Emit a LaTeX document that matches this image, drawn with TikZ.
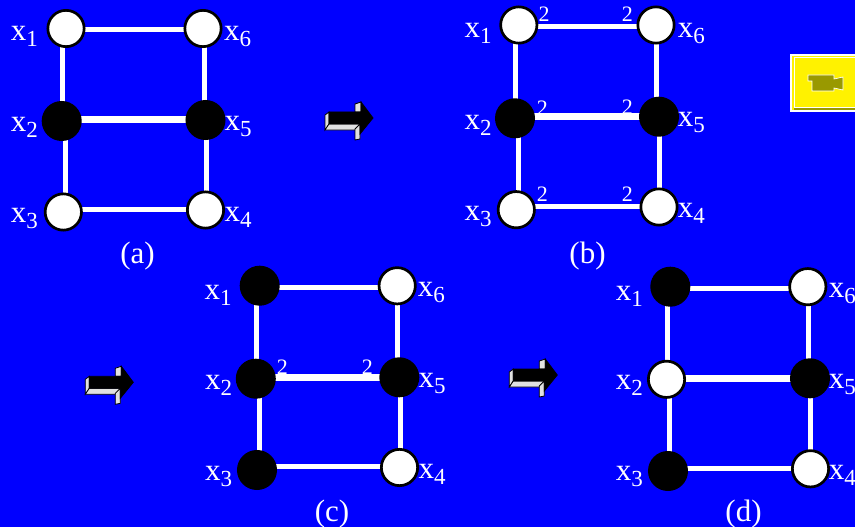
\documentclass[tikz,border=0pt]{standalone}
\usepackage{fontspec}
\setmainfont{Liberation Serif}
\usetikzlibrary{backgrounds}

\newcommand{\xname}[1]{x\raisebox{-6pt}{\fontsize{23}{23}\selectfont #1}}

\definecolor{slideblue}{RGB}{0,0,255}
\definecolor{camolive}{RGB}{153,153,0}
\definecolor{facegray}{RGB}{225,225,225}

\begin{document}
\begin{tikzpicture}[
  x=1pt, y=-1pt,
  font=\fontsize{31}{31}\selectfont,
  white node/.style={circle, draw=black, line width=2.7pt, fill=white,
                     minimum size=36.3pt, inner sep=0pt},
  black node/.style={white node, fill=black, minimum size=37.3pt},
  vname/.style={text=white, inner sep=0pt, anchor=base west},
  caption/.style={text=white, inner sep=0pt, anchor=base},
  weight/.style={text=white, inner sep=0pt, anchor=base west,
                 font=\fontsize{22}{22}\selectfont},
  wire/.style={draw=white, line width=5pt},
  midwire/.style={draw=white, line width=6.5pt},
  face/.style={fill=facegray, draw=black, line width=0.8pt},
  pics/blockarrow/.style={code={
    \path[face] (-48,-3) -- (-44,-6) -- (-44,6) -- (-48,12) -- cycle;
    \path[face] (-44,6) -- (-13,6) -- (-18,12) -- (-48,12) -- cycle;
    \path[face] (-18,11) -- (-13,6) -- (-13,21) -- (-18,22) -- cycle;
    \path[face] (-18,-14) -- (-12,-16) -- (-12,-6) -- (-18,-6) -- cycle;
    \path[fill=black, draw=black, line width=0.8pt] (-44,-6) -- (-12,-6) -- (-12,-16)
      -- (0,0) -- (-13,16) -- (-13,6) -- (-44,6) -- cycle;
  }},
]
\useasboundingbox (0,0) rectangle (855,527);
\begin{scope}[on background layer]
  \fill[slideblue] (0,0) rectangle (855,527);
\end{scope}

% ---- graph (a) ----
\node[white node] (a1) at (66,28.5) {};
\node[white node] (a6) at (203,28.5) {};
\node[black node] (a2) at (61.7,121) {};
\node[black node] (a5) at (205.5,120) {};
\node[white node] (a3) at (63.3,212) {};
\node[white node] (a4) at (205.5,210) {};
\begin{scope}[on background layer]
  \draw[wire] ([yshift=-1.5pt]a1.center) -- ([yshift=-1.5pt]a6.center);
  \draw[wire] ([xshift=-3.3pt]a1.center) -- ([xshift=1pt]a2.center);
  \draw[wire] ([xshift=1pt]a6.center) -- ([xshift=-1.5pt]a5.center);
  \draw[midwire] ([yshift=1.5pt]a2.center) -- ([yshift=0.5pt]a5.center);
  \draw[wire] ([xshift=3.3pt]a2.center) -- ([xshift=1.7pt]a3.center);
  \draw[wire] ([xshift=0.8pt]a5.center) -- ([xshift=0.8pt]a4.center);
  \draw[wire] ([yshift=3pt]a3.center) -- ([yshift=1pt]a4.center);
\end{scope}
\node[vname] (la1) at (10.7,40.7) {\xname{1}};
\node[vname] (la6) at (224,40.7) {\xname{6}};
\node[vname] (la2) at (10.7,131.7) {\xname{2}};
\node[vname] (la5) at (224.5,130.7) {\xname{5}};
\node[vname] (la3) at (10.7,222.3) {\xname{3}};
\node[vname] (la4) at (224.5,221) {\xname{4}};
\node[caption] (capa) at (137.5,263.3) {(a)};

% ---- graph (b) ----
\node[white node] (b1) at (518.8,25) {};
\node[white node] (b6) at (656,25) {};
\node[black node] (b2) at (515,118.3) {};
\node[black node] (b5) at (659,116.7) {};
\node[white node] (b3) at (516.3,209.7) {};
\node[white node] (b4) at (659,207) {};
\begin{scope}[on background layer]
  \draw[wire] ([yshift=-2pt]b1.center) -- ([yshift=-2pt]b6.center);
  \draw[wire] ([xshift=-3.1pt]b1.center) -- ([xshift=0.7pt]b2.center);
  \draw[wire] ([xshift=0.7pt]b6.center) -- ([xshift=-2.3pt]b5.center);
  \draw[midwire] ([yshift=1.6pt]b2.center) -- (b5.center);
  \draw[wire] ([xshift=3.3pt]b2.center) -- ([xshift=2pt]b3.center);
  \draw[wire] ([xshift=0.7pt]b5.center) -- ([xshift=0.7pt]b4.center);
  \draw[wire] ([yshift=3.7pt]b3.center) -- ([yshift=1pt]b4.center);
\end{scope}
\node[vname] (lb1) at (464.3,37.7) {\xname{1}};
\node[vname] (lb6) at (677.7,37.7) {\xname{6}};
\node[vname] (lb2) at (464.3,129) {\xname{2}};
\node[vname] (lb5) at (677.7,126.7) {\xname{5}};
\node[vname] (lb3) at (464.3,220) {\xname{3}};
\node[vname] (lb4) at (677.7,217.3) {\xname{4}};
\node[weight] (wb1) at (538.3,21.7) {2};
\node[weight] (wb6) at (621.7,21.7) {2};
\node[weight] (wb2) at (536.7,115) {2};
\node[weight] (wb5) at (621.7,114.3) {2};
\node[weight] (wb3) at (536.7,201) {2};
\node[weight] (wb4) at (621.7,201) {2};
\node[caption] (capb) at (587.5,263.3) {(b)};

% ---- graph (c) ----
\node[black node] (c1) at (259.7,285.7) {};
\node[white node] (c6) at (397.2,285.8) {};
\node[black node] (c2) at (255.8,378.7) {};
\node[black node] (c5) at (399.3,377.3) {};
\node[black node] (c3) at (257,470) {};
\node[white node] (c4) at (399.5,467.5) {};
\begin{scope}[on background layer]
  \draw[wire] ([yshift=-2pt]c1.center) -- ([yshift=-1.9pt]c6.center);
  \draw[wire] ([xshift=-3.7pt]c1.center) -- ([xshift=0.2pt]c2.center);
  \draw[wire] ([xshift=-0.2pt]c6.center) -- ([xshift=-2.3pt]c5.center);
  \draw[midwire] ([yshift=1.4pt]c2.center) -- (c5.center);
  \draw[wire] ([xshift=3.2pt]c2.center) -- ([xshift=2pt]c3.center);
  \draw[wire] ([xshift=0.7pt]c5.center) -- ([xshift=0.5pt]c4.center);
  \draw[wire] ([yshift=3.3pt]c3.center) -- ([yshift=0.8pt]c4.center);
\end{scope}
\node[vname] (lc1) at (204.3,299) {\xname{1}};
\node[vname] (lc6) at (417.7,296.7) {\xname{6}};
\node[vname] (lc2) at (205,389.3) {\xname{2}};
\node[vname] (lc5) at (418.3,387.3) {\xname{5}};
\node[vname] (lc3) at (205,480) {\xname{3}};
\node[vname] (lc4) at (418.3,478.3) {\xname{4}};
\node[weight] (wc2) at (276.7,374) {2};
\node[weight] (wc5) at (361.7,374) {2};
\node[caption] (capc) at (332,521.7) {(c)};

% ---- graph (d) ----
\node[black node] (d1) at (670.3,286.7) {};
\node[white node] (d6) at (807.8,286.7) {};
\node[white node] (d2) at (666.5,379.3) {};
\node[black node] (d5) at (810,378.3) {};
\node[black node] (d3) at (668,471) {};
\node[white node] (d4) at (810.5,468.8) {};
\begin{scope}[on background layer]
  \draw[wire] ([yshift=-2pt]d1.center) -- ([yshift=-2pt]d6.center);
  \draw[wire] ([xshift=-3.3pt]d1.center) -- ([xshift=0.5pt]d2.center);
  \draw[wire] ([xshift=0.5pt]d6.center) -- ([xshift=-1.7pt]d5.center);
  \draw[midwire] ([yshift=1pt]d2.center) -- (d5.center);
  \draw[wire] ([xshift=3.2pt]d2.center) -- ([xshift=1.7pt]d3.center);
  \draw[wire] ([xshift=0.7pt]d5.center) -- ([xshift=0.2pt]d4.center);
  \draw[wire] ([yshift=3pt]d3.center) -- ([yshift=0.8pt]d4.center);
\end{scope}
\node[vname] (ld1) at (615.7,300) {\xname{1}};
\node[vname] (ld6) at (828.7,297.7) {\xname{6}};
\node[vname] (ld2) at (615.7,389.3) {\xname{2}};
\node[vname] (ld5) at (828.7,388.3) {\xname{5}};
\node[vname] (ld3) at (615.7,480) {\xname{3}};
\node[vname] (ld4) at (828.7,479.3) {\xname{4}};
\node[caption] (capd) at (743.5,521.7) {(d)};

% ---- block arrows between the steps ----
\pic at (373,118) {blockarrow};
\pic at (133.3,382.3) {blockarrow};
\pic at (557.3,375) {blockarrow};

% ---- camera button ----
\fill[white] (790,54) rectangle (855,112);
\fill[yellow] (792,56) rectangle (855,110);
\draw[white, line width=1pt] (794,58) -- (855,58) (794,58) -- (794,108) -- (855,108);
\fill[camolive] (794,108.5) rectangle (855,110.5);
\path[fill=camolive, draw=white, line width=0.7pt] (808,75) -- (834,75) -- (834,79)
  -- (843,77) -- (843,90) -- (834,88) -- (834,91) -- (812,91) -- (812,81)
  -- (808,81) -- cycle;
\end{tikzpicture}
\end{document}
